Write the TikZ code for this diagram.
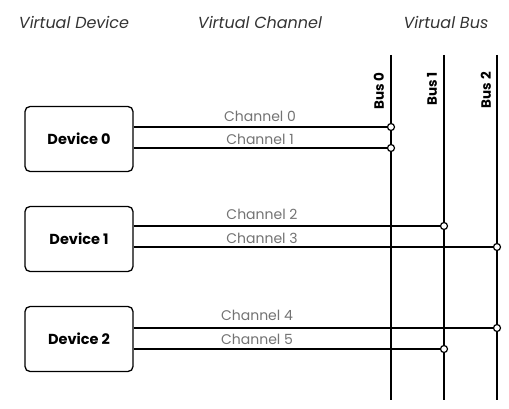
\documentclass[tikz,border=0pt]{standalone}
\usepackage{fontspec}
\setmainfont{Poppins}
\begin{document}
\begin{tikzpicture}[x=1pt,y=-1pt,
  devbox/.style={draw, line width=1.3pt, rounded corners=5pt, minimum width=108pt, minimum height=65pt, font=\fontsize{14.5}{16}\selectfont\bfseries},
  heading/.style={font=\fontsize{16}{18}\selectfont\itshape, text=black!80},
  chlabel/.style={font=\fontsize{14}{16}\selectfont, text=black!55, inner sep=0pt},
  buslabel/.style={font=\fontsize{13.5}{15}\selectfont\bfseries, rotate=90, anchor=east, inner sep=0pt},
  busline/.style={line width=2.6pt},
  chline/.style={line width=1.6pt},
  junction/.style={circle, draw, fill=white, line width=1.2pt, inner sep=0pt, minimum size=7pt}]
\useasboundingbox (0,0) rectangle (509,409);
% headings
\node[heading] (h0) at (74,22) {Virtual Device};
\node[heading] (h1) at (260,22) {Virtual Channel};
\node[heading] (h2) at (446,22) {Virtual Bus};
% devices
\node[devbox] (d0) at (79,139) {Device 0};
\node[devbox] (d1) at (79,239) {Device 1};
\node[devbox] (d2) at (79,339) {Device 2};
% buses
\coordinate (b0t) at (391,55); \coordinate (b0b) at (391,400);
\coordinate (b1t) at (444,55); \coordinate (b1b) at (444,400);
\coordinate (b2t) at (497,55); \coordinate (b2b) at (497,400);
\draw[busline] (b0t) -- (b0b);
\draw[busline] (b1t) -- (b1b);
\draw[busline] (b2t) -- (b2b);
\node[buslabel] (l0) at (379,72) {Bus 0};
\node[buslabel] (l1) at (432,72) {Bus 1};
\node[buslabel] (l2) at (486,72) {Bus 2};
% junctions
\coordinate (j0) at (391,127);
\coordinate (j1) at (391,148);
\coordinate (j2) at (444,226);
\coordinate (j3) at (497,247);
\coordinate (j4) at (497,328);
\coordinate (j5) at (444,349);
% channel lines
\draw[chline] (d0.east |- j0) -- (j0);
\draw[chline] (d0.east |- j1) -- (j1);
\draw[chline] (d1.east |- j2) -- (j2);
\draw[chline] (d1.east |- j3) -- (j3);
\draw[chline] (d2.east |- j4) -- (j4);
\draw[chline] (d2.east |- j5) -- (j5);
\foreach \j in {j0,j1,j2,j3,j4,j5} \node[junction] at (\j) {};
% channel labels
\node[chlabel] (c0) at (260,116) {Channel 0};
\node[chlabel] (c1) at (260,139) {Channel 1};
\node[chlabel] (c2) at (262,214) {Channel 2};
\node[chlabel] (c3) at (262,238) {Channel 3};
\node[chlabel] (c4) at (257,315) {Channel 4};
\node[chlabel] (c5) at (257,339) {Channel 5};
\end{tikzpicture}
\end{document}
